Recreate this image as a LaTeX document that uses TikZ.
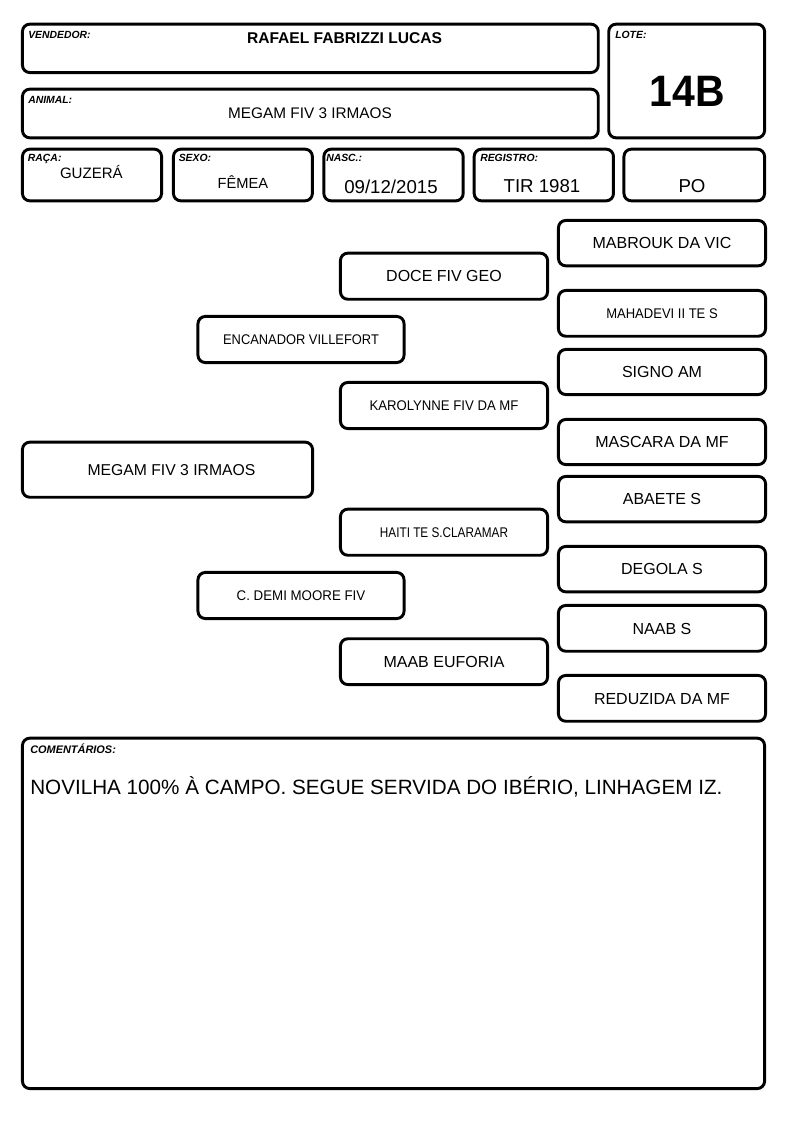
\documentclass[tikz,border=0pt]{standalone}
\usepackage{fontspec}
\setmainfont{Liberation Sans}
\usepackage{graphicx}
\tikzset{
  box/.style={draw=black, line width=2.2pt, rounded corners=5.5pt, fill=white, inner sep=0pt, align=center},
  lbl/.style={anchor=base west, inner sep=0pt, font=\fontsize{7.8pt}{9pt}\selectfont\bfseries\itshape},
  val/.style={anchor=base, inner sep=0pt},
  big/.style={font=\fontsize{12pt}{14pt}\selectfont, text height=8.6pt, text depth=0pt},
  small/.style={font=\fontsize{10.5pt}{12pt}\selectfont, text height=7.5pt, text depth=0pt},
}
\newcommand\mybox[6][]{\node[box,#1,minimum width={(#5-#3-2.9)*0.75pt},minimum height={(#6-#4-2.9)*0.75pt}] (#2) at ({(#3+#5)/2},{(#4+#6)/2})}
\newcommand\hs[2]{\scalebox{#1}[1]{#2}}
\begin{document}
\begin{tikzpicture}[x=0.75pt,y=-0.75pt]
\useasboundingbox (0,0) rectangle (794,1123);
\fill[white] (0,0) rectangle (794,1123);

% header boxes
\mybox{vend}{21}{22.7}{599.7}{74} {};
\mybox{lote}{607.3}{22.7}{766}{139.3} {};
\mybox{anim}{21}{87.7}{599.7}{139.3} {};
\mybox{raca}{21}{147.7}{163}{202.3} {};
\mybox{sexo}{172}{147.7}{313.8}{202.3} {};
\mybox{nasc}{322.4}{147.7}{464.6}{202.3} {};
\mybox{regi}{472.7}{147.7}{614.9}{202.3} {};
\mybox{po}{622.5}{147.7}{766}{202.3} {};

\node[lbl] (lvend) at (28,39) {VENDEDOR:};
\node[lbl] (llote) at (615,39) {LOTE:};
\node[lbl] (lanim) at (28,104) {ANIMAL:};
\node[lbl] (lraca) at (27.7,162) {RAÇA:};
\node[lbl] (lsexo) at (178.5,162) {SEXO:};
\node[lbl] (lnasc) at (326,162) {NASC.:};
\node[lbl] (lregi) at (480,162) {REGISTRO:};

\node[val, font=\fontsize{11.7pt}{14pt}\selectfont\bfseries] (tvend) at (344.5,44) {RAFAEL FABRIZZI LUCAS};
\node[val, font=\fontsize{33pt}{36pt}\selectfont\bfseries] (tlote) at (687.5,107) {\hs{0.93}{14B}};
\node[val, font=\fontsize{11.5pt}{14pt}\selectfont] (tanim) at (310,119) {MEGAM FIV 3 IRMAOS};
\node[val, font=\fontsize{11.3pt}{14pt}\selectfont] (traca) at (91.4,179) {GUZERÁ};
\node[val, font=\fontsize{11pt}{14pt}\selectfont] (tsexo) at (243,189) {FÊMEA};
\node[val, font=\fontsize{14pt}{16pt}\selectfont] (tnasc) at (391,194) {09/12/2015};
\node[val, font=\fontsize{14pt}{16pt}\selectfont] (tregi) at (542,193) {TIR 1981};
\node[val, font=\fontsize{14pt}{16pt}\selectfont] (tpo) at (692,193) {PO};

% pedigree
\mybox[big]{mabrouk}{557}{219}{767}{267.3} {MABROUK DA VIC};
\mybox[small]{mahadevi}{557}{289}{767}{337.7} {\hs{0.93}{MAHADEVI II TE S}};
\mybox[big]{signo}{557}{348}{767}{396} {SIGNO AM};
\mybox[big]{mascara}{557}{418}{767}{466} {MASCARA DA MF};
\mybox[big]{abaete}{557}{475}{767}{523.3} {ABAETE S};
\mybox[big]{degola}{557}{545}{767}{593.3} {DEGOLA S};
\mybox[big]{naab}{557}{604}{767}{652.7} {NAAB S};
\mybox[big]{reduzida}{557}{674}{767}{722.7} {REDUZIDA DA MF};

\mybox[big]{doce}{339}{251.7}{549}{300.7} {DOCE FIV GEO};
\mybox[small]{karolynne}{339}{381}{549}{430} {\hs{0.94}{KAROLYNNE FIV DA MF}};
\mybox[small]{haiti}{339}{507.7}{549}{556.7} {\hs{0.84}{HAITI TE S.CLARAMAR}};
\mybox[big]{maab}{339}{637.3}{549}{686} {MAAB EUFORIA};

\mybox[small]{encanador}{196.5}{315}{405.5}{364} {\hs{0.92}{ENCANADOR VILLEFORT}};
\mybox[small]{demi}{196.5}{571}{405.5}{620} {\hs{0.95}{C. DEMI MOORE FIV}};

\mybox[font=\fontsize{11.8pt}{14pt}\selectfont, text height=8.45pt, text depth=0pt]{megam}{21}{440.7}{314}{498.7} {\hspace{6pt}MEGAM FIV 3 IRMAOS};

% comments
\mybox{coment}{21}{736.7}{766}{1090} {};
\node[lbl, font=\fontsize{8.2pt}{10pt}\selectfont\bfseries\itshape] (lcoment) at (30,753) {COMENTÁRIOS:};
\node[anchor=base west, inner sep=0pt, font=\fontsize{15.5pt}{18pt}\selectfont] (tcoment) at (30,794) {NOVILHA 100\% À CAMPO. SEGUE SERVIDA DO IBÉRIO, LINHAGEM IZ.};
\end{tikzpicture}
\end{document}
